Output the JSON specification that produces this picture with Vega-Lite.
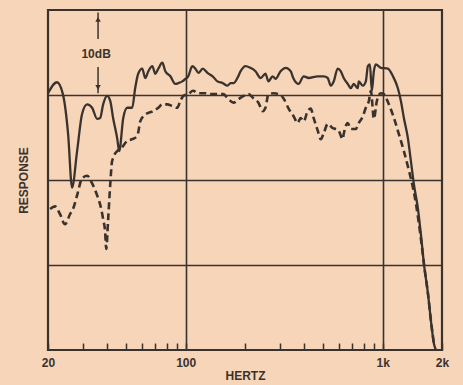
{
  "$schema": "https://vega.github.io/schema/vega-lite/v6.json",
  "width": 394,
  "height": 340,
  "autosize": "none",
  "padding": {"left": 48, "top": 10, "right": 21, "bottom": 35},
  "background": "#f7d5b9",
  "config": {"view": {"stroke": "#3a332d", "strokeWidth": 2.2}, "font": "Liberation Sans"},
  "datasets": {
    "solid": [{"f":20,"db":0.2},{"f":22.2,"db":1.5},{"f":23.8,"db":0.1},{"f":25.3,"db":-4.6},{"f":26.5,"db":-10.9},{"f":28.1,"db":-6.6},{"f":29.8,"db":-2.2},{"f":31.6,"db":-1.1},{"f":33.5,"db":-1.5},{"f":35.5,"db":-2.8},{"f":36.8,"db":-2.7},{"f":38.1,"db":-1.1},{"f":39.9,"db":-0.1},{"f":41.4,"db":-0.7},{"f":42.8,"db":-2.7},{"f":44.9,"db":-5.1},{"f":46.0,"db":-6.6},{"f":48.2,"db":-2.7},{"f":50.5,"db":-1.5},{"f":53.5,"db":-1.5},{"f":55.4,"db":0.8},{"f":57.4,"db":2.5},{"f":60.2,"db":3.1},{"f":62.3,"db":2.0},{"f":64.6,"db":2.8},{"f":67.7,"db":3.4},{"f":70.1,"db":2.5},{"f":72.6,"db":3.1},{"f":76.1,"db":3.8},{"f":78.8,"db":2.8},{"f":83.6,"db":2.2},{"f":88.6,"db":1.3},{"f":91.8,"db":1.4},{"f":96.1,"db":1.6},{"f":99.6,"db":1.9},{"f":103,"db":2.2},{"f":108,"db":3.4},{"f":112,"db":3.1},{"f":116,"db":2.6},{"f":122,"db":3.1},{"f":129,"db":2.6},{"f":137,"db":2.2},{"f":145,"db":1.6},{"f":154,"db":1.4},{"f":163,"db":1.1},{"f":169,"db":1.4},{"f":175,"db":1.4},{"f":183,"db":2.0},{"f":190,"db":2.8},{"f":201,"db":3.4},{"f":213,"db":3.2},{"f":226,"db":2.8},{"f":240,"db":2.0},{"f":254,"db":2.5},{"f":263,"db":1.6},{"f":276,"db":2.2},{"f":286,"db":1.9},{"f":303,"db":2.8},{"f":322,"db":3.2},{"f":341,"db":2.8},{"f":353,"db":1.9},{"f":374,"db":1.3},{"f":397,"db":2.2},{"f":421,"db":2.0},{"f":468,"db":2.2},{"f":502,"db":2.2},{"f":526,"db":2.0},{"f":545,"db":1.1},{"f":564,"db":1.6},{"f":591,"db":3.1},{"f":612,"db":2.8},{"f":634,"db":2.0},{"f":665,"db":1.3},{"f":689,"db":0.8},{"f":713,"db":1.3},{"f":747,"db":0.8},{"f":756,"db":1.6},{"f":793,"db":1.1},{"f":821,"db":1.6},{"f":841,"db":3.4},{"f":861,"db":3.6},{"f":881,"db":0.5},{"f":902,"db":2.8},{"f":923,"db":3.6},{"f":978,"db":3.2},{"f":1062,"db":3.1},{"f":1127,"db":2.2},{"f":1194,"db":0.8},{"f":1237,"db":-0.7},{"f":1281,"db":-2.7},{"f":1343,"db":-5.1},{"f":1391,"db":-7.8},{"f":1440,"db":-10.5},{"f":1510,"db":-13.4},{"f":1563,"db":-16.4},{"f":1620,"db":-19.9},{"f":1698,"db":-23.4},{"f":1758,"db":-26.6},{"f":1821,"db":-29.3},{"f":1865,"db":-30}],
    "dashed": [{"f":20.5,"db":-13.4},{"f":21.7,"db":-13.1},{"f":23.0,"db":-14.0},{"f":24.4,"db":-15.2},{"f":25.9,"db":-14.0},{"f":26.8,"db":-13.4},{"f":28.1,"db":-11.8},{"f":29.8,"db":-9.8},{"f":31.6,"db":-9.5},{"f":33.5,"db":-10.4},{"f":35.5,"db":-11.8},{"f":36.8,"db":-12.9},{"f":38.1,"db":-14.6},{"f":39.0,"db":-16.1},{"f":39.5,"db":-18.1},{"f":40.4,"db":-14.6},{"f":41.4,"db":-10.5},{"f":42.3,"db":-7.8},{"f":44.9,"db":-6.6},{"f":46.5,"db":-6.4},{"f":50.5,"db":-5.4},{"f":53.5,"db":-5.2},{"f":56.8,"db":-4.8},{"f":58.8,"db":-3.1},{"f":60.9,"db":-2.5},{"f":64.6,"db":-2.1},{"f":68.5,"db":-1.9},{"f":72.6,"db":-1.5},{"f":76.1,"db":-1.1},{"f":80.6,"db":-1.1},{"f":85.5,"db":-1.3},{"f":90.7,"db":-1.5},{"f":93.9,"db":-0.7},{"f":97.3,"db":-0.1},{"f":103,"db":0.1},{"f":109,"db":0.5},{"f":116,"db":0.2},{"f":126,"db":0.2},{"f":133,"db":0.1},{"f":147,"db":0.1},{"f":155,"db":0.1},{"f":165,"db":-0.5},{"f":175,"db":-0.9},{"f":185,"db":-0.5},{"f":197,"db":-0.1},{"f":208,"db":0.1},{"f":221,"db":-0.4},{"f":234,"db":-0.9},{"f":246,"db":-1.9},{"f":254,"db":-1.5},{"f":263,"db":0.1},{"f":280,"db":0.2},{"f":296,"db":0.1},{"f":314,"db":-0.4},{"f":333,"db":-1.6},{"f":353,"db":-2.5},{"f":370,"db":-3.3},{"f":383,"db":-2.7},{"f":397,"db":-3.1},{"f":416,"db":-1.9},{"f":431,"db":-1.6},{"f":446,"db":-2.7},{"f":468,"db":-4.2},{"f":485,"db":-5.2},{"f":502,"db":-4.5},{"f":526,"db":-3.4},{"f":558,"db":-3.9},{"f":577,"db":-4.0},{"f":598,"db":-4.2},{"f":627,"db":-5.2},{"f":634,"db":-4.6},{"f":665,"db":-3.3},{"f":689,"db":-4.0},{"f":730,"db":-4.0},{"f":756,"db":-3.3},{"f":793,"db":-2.5},{"f":821,"db":-1.5},{"f":851,"db":-0.7},{"f":871,"db":0.5},{"f":902,"db":-2.8},{"f":934,"db":-0.7},{"f":978,"db":0.2},{"f":1013,"db":0.1},{"f":1075,"db":-1.1},{"f":1140,"db":-2.7},{"f":1208,"db":-4.6},{"f":1281,"db":-6.6},{"f":1359,"db":-8.9},{"f":1424,"db":-10.9},{"f":1475,"db":-12.8},{"f":1528,"db":-15.2},{"f":1590,"db":-18.3},{"f":1620,"db":-19.9},{"f":1698,"db":-23.4},{"f":1758,"db":-26.6},{"f":1821,"db":-29.3}],
    "arrow": [{"f":35.9,"a":9.7,"b":6.6},{"f":35.9,"a":3.3,"b":0.2}],
    "heads": [{"f":35.9,"db":8.9,"dir":"up"},{"f":35.9,"db":0.9,"dir":"down"}],
    "note": [{"f":35.1,"db":4.8,"t":"10dB"}]
  },
  "layer": [
    {
      "data": {"name": "solid"},
      "mark": {"type": "line", "color": "#3a332d", "strokeWidth": 2.3, "interpolate": "monotone"},
      "encoding": {
        "x": {
          "field": "f", "type": "quantitative",
          "scale": {"type": "log", "domain": [20, 2000], "nice": false},
          "axis": {
            "values": [20,30,40,50,60,70,80,90,100,200,300,400,500,600,700,800,900,1000,2000],
            "labelExpr": "datum.value==20?'20':datum.value==100?'100':datum.value==1000?'1k':datum.value==2000?'2k':''",
            "labelFlush": false, "labelOverlap": false,
            "tickSize": -7, "tickColor": "#3a332d", "tickWidth": 1.5,
            "domain": false,
            "grid": true, "gridColor": "#3a332d", "gridWidth": 1.6,
            "gridOpacity": {"condition": {"test": "datum.value==100||datum.value==1000", "value": 1}, "value": 0},
            "labelFontSize": 12, "labelFontWeight": "bold", "labelColor": "#3a332d", "labelPadding": 14,
            "title": "HERTZ", "titleFontSize": 12, "titleFontWeight": "bold", "titleColor": "#3a332d", "titlePadding": 2
          }
        },
        "y": {
          "field": "db", "type": "quantitative",
          "scale": {"domain": [-30, 10], "nice": false},
          "axis": {
            "values": [-20, -10, 0], "labels": false, "ticks": false, "domain": false,
            "grid": true, "gridColor": "#3a332d", "gridWidth": 1.6,
            "title": "RESPONSE", "titleFontSize": 12, "titleFontWeight": "bold", "titleColor": "#3a332d", "titlePadding": 18
          }
        }
      }
    },
    {
      "data": {"name": "dashed"},
      "mark": {"type": "line", "color": "#3a332d", "strokeWidth": 2.6, "strokeDash": [7, 4], "interpolate": "monotone"},
      "encoding": {"x": {"field": "f", "type": "quantitative"}, "y": {"field": "db", "type": "quantitative"}}
    },
    {
      "data": {"name": "arrow"},
      "mark": {"type": "rule", "color": "#3a332d", "strokeWidth": 1.5},
      "encoding": {"x": {"field": "f", "type": "quantitative"}, "y": {"field": "a", "type": "quantitative"}, "y2": {"field": "b"}}
    },
    {
      "data": {"name": "heads"},
      "mark": {"type": "point", "filled": true, "color": "#3a332d", "size": 30, "opacity": 1},
      "encoding": {
        "x": {"field": "f", "type": "quantitative"},
        "y": {"field": "db", "type": "quantitative"},
        "shape": {"field": "dir", "type": "nominal", "scale": {"domain": ["up", "down"], "range": ["triangle-up", "triangle-down"]}, "legend": null}
      }
    },
    {
      "data": {"name": "note"},
      "mark": {"type": "text", "color": "#3a332d", "fontSize": 12, "fontWeight": "bold"},
      "encoding": {"x": {"field": "f", "type": "quantitative"}, "y": {"field": "db", "type": "quantitative"}, "text": {"field": "t"}}
    }
  ]
}
